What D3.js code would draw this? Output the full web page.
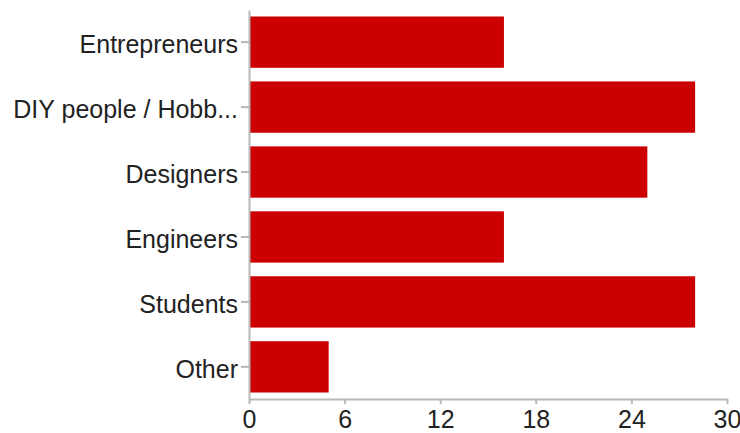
<!DOCTYPE html>
<html lang="en">
<head>
    <meta charset="UTF-8">
    <title>Audience</title>
    <script src="https://cdn.jsdelivr.net/npm/d3@7"></script>
    <style>
        html, body {
            margin: 0;
            padding: 0;
            background: #fff;
            overflow: hidden;
        }
        .axis path, .axis line {
            stroke: #b8b8b8;
            stroke-width: 2px;
        }
        .axis text {
            font-family: "Liberation Sans", Arial, sans-serif;
            font-size: 25px;
            fill: #222;
        }
        .bar {
            fill: #cc0000;
        }
    </style>
</head>
<body>
</body>
<script>
    let categories = ['Entrepreneurs', 'DIY people / Hobb...', 'Designers', 'Engineers', 'Students', 'Other'];
    let values = [16, 28, 25, 16, 28, 5];
    let ticks = [0, 6, 12, 18, 24, 30];

    let width = 740;
    let height = 433;
    let margin = {top: 10, right: 13, bottom: 34, left: 249};

    let svg = d3.select('body').append('svg')
        .attr('width', width)
        .attr('height', height);

    let x = d3.scaleLinear()
        .domain([0, 30])
        .range([margin.left, width - margin.right]);

    let y = d3.scaleBand()
        .domain(categories)
        .range([margin.top, height - margin.bottom])
        .paddingInner(0.21)
        .paddingOuter(0.1);

    svg.append('g')
        .selectAll('.bar')
        .data(values).enter()
        .append('rect')
        .classed('bar', true)
        .attr('x', x(0))
        .attr('y', (d, i) => y(categories[i]))
        .attr('width', d => x(d) - x(0))
        .attr('height', y.bandwidth());

    // x axis labels sit right on the bottom edge, keep them inside
    svg.append('g')
        .classed('axis', true)
        .attr('transform', `translate(0,${height - margin.bottom})`)
        .call(d3.axisBottom(x).tickValues(ticks).tickSize(5).tickSizeOuter(0).tickPadding(6));

    svg.append('g')
        .classed('axis', true)
        .attr('transform', `translate(${margin.left},0)`)
        .call(d3.axisLeft(y).tickSize(8).tickSizeOuter(0).tickPadding(3))
        .selectAll('text')
        .attr('dy', '0.44em');

    svg.selectAll('.axis .domain').attr('fill', 'none');
</script>
</html>
